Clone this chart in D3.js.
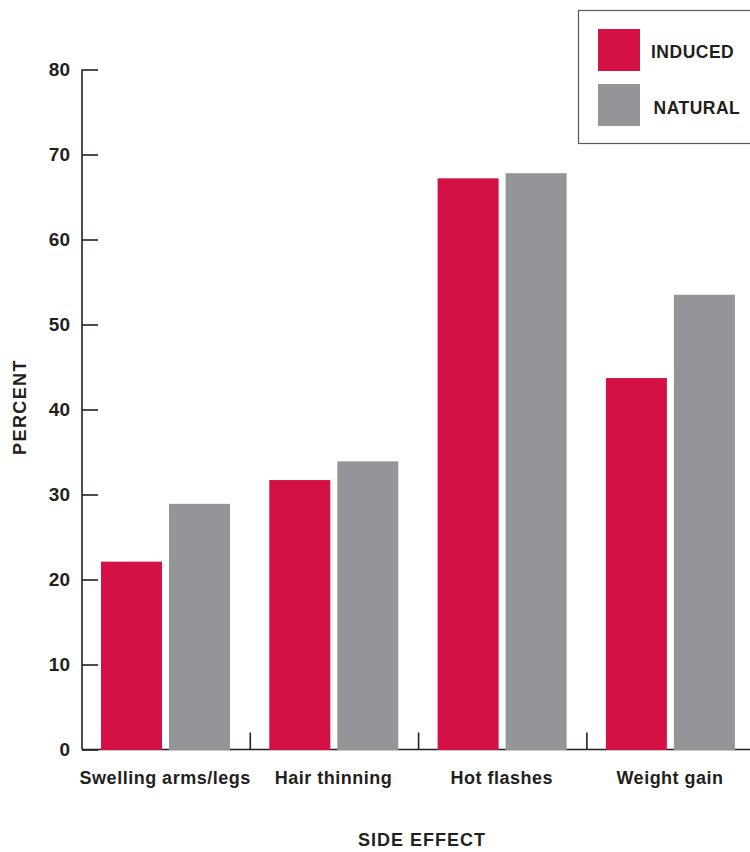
<!DOCTYPE html>
<html>
<head>
<meta charset="utf-8">
<script src="https://cdn.jsdelivr.net/npm/d3@7"></script>
<style>
  html, body { margin: 0; padding: 0; background: #fff; }
  svg { display: block; }
  text { font-family: "Liberation Sans", Arial, sans-serif; font-weight: 700; fill: #231f20; }
</style>
</head>
<body>
<svg id="chart" width="750" height="852"></svg>
<script>
// Side effects by menopause type, percent of respondents
const categories = ["Swelling arms/legs", "Hair thinning", "Hot flashes", "Weight gain"];
const seriesNames = ["INDUCED", "NATURAL"];
const induced = [22.1, 31.7, 67.2, 43.7];
const natural = [28.9, 33.9, 67.8, 53.5];
const yTicks = [0, 10, 20, 30, 40, 50, 60, 70, 80];
const colors = ["#d31145", "#939598"];

const rows = categories.map((c, i) => ({ category: c, values: [induced[i], natural[i]] }));

const svg = d3.select("#chart");
const ink = "#231f20";

const x0 = d3.scaleBand().domain(categories).range([82, 755.2]).paddingInner(0).paddingOuter(0);
const x1 = d3.scaleBand().domain(seriesNames).range([19, 148]).paddingInner(7 / 68).paddingOuter(0);
const y = d3.scaleLinear().domain([0, 80]).range([749.5, 69.5]);

// x baseline and category separators
svg.append("line")
  .attr("x1", 82).attr("x2", 750)
  .attr("y1", y(0)).attr("y2", y(0))
  .attr("stroke", ink).attr("stroke-width", 1.6);

categories.slice(1).forEach(c => {
  svg.append("line")
    .attr("x1", x0(c)).attr("x2", x0(c))
    .attr("y1", y(0)).attr("y2", y(0) - 17)
    .attr("stroke", ink).attr("stroke-width", 1.6);
});

// y axis with inward ticks
const yAxis = d3.axisRight(y).tickValues(yTicks).tickSize(16).tickFormat("");
const yg = svg.append("g").attr("transform", "translate(82,0)").call(yAxis);
yg.select(".domain").attr("d", `M0,${y(80)}V${y(0)}`).attr("stroke", ink).attr("stroke-width", 1.6);
yg.selectAll(".tick line").attr("stroke", ink).attr("stroke-width", 1.6);

svg.append("g").selectAll("text")
  .data(yTicks)
  .join("text")
  .attr("x", 70)
  .attr("y", d => y(d))
  .attr("dy", "0.36em")
  .attr("text-anchor", "end")
  .style("font-size", "19px")
  .text(d => d);

// bars
const groups = svg.append("g").selectAll("g")
  .data(rows)
  .join("g")
  .attr("transform", d => `translate(${x0(d.category)},0)`);

groups.selectAll("rect")
  .data(d => d.values.map((v, i) => ({ key: seriesNames[i], value: v, i })))
  .join("rect")
  .attr("x", d => x1(d.key))
  .attr("width", x1.bandwidth())
  .attr("y", d => y(d.value))
  .attr("height", d => y(0) - y(d.value) + 0.5)
  .attr("fill", d => colors[d.i]);

// category labels
svg.append("g").selectAll("text")
  .data(categories)
  .join("text")
  .attr("x", d => x0(d) + x0.bandwidth() / 2 - 1)
  .attr("y", 784)
  .attr("text-anchor", "middle")
  .style("font-size", "18px")
  .style("letter-spacing", "0.5px")
  .text(d => d);

// axis titles
svg.append("text")
  .attr("x", 422)
  .attr("y", 846)
  .attr("text-anchor", "middle")
  .style("font-size", "18px")
  .style("letter-spacing", "1px")
  .text("SIDE EFFECT");

svg.append("text")
  .attr("transform", "translate(26,407) rotate(-90)")
  .attr("text-anchor", "middle")
  .style("font-size", "18px")
  .style("letter-spacing", "1.4px")
  .text("PERCENT");

// legend
const legend = svg.append("g");
legend.append("rect")
  .attr("x", 578.5).attr("y", 10.5)
  .attr("width", 180).attr("height", 133)
  .attr("fill", "#fff").attr("stroke", "#58595b").attr("stroke-width", 1.2);

const legendItems = [
  { name: seriesNames[0], color: colors[0], sy: 29, tx: 651, ty: 58.3 },
  { name: seriesNames[1], color: colors[1], sy: 84, tx: 653.5, ty: 114.3 }
];
legendItems.forEach(d => {
  legend.append("rect")
    .attr("x", 598).attr("y", d.sy)
    .attr("width", 42).attr("height", 42)
    .attr("fill", d.color);
  legend.append("text")
    .attr("x", d.tx).attr("y", d.ty)
    .style("font-size", "17.5px")
    .style("letter-spacing", "0.5px")
    .text(d.name);
});
</script>
</body>
</html>
